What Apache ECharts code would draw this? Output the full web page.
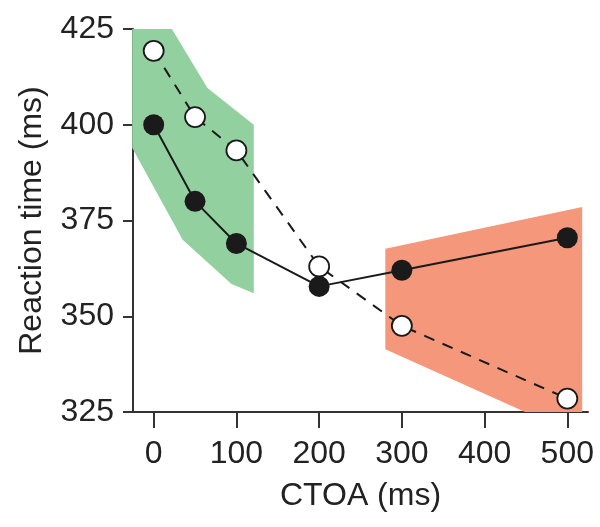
<!DOCTYPE html>
<html>
<head>
<meta charset="utf-8">
<script src="https://cdn.jsdelivr.net/npm/echarts@6/dist/echarts.min.js"></script>
<style>
  html, body { margin: 0; padding: 0; background: #fff; }
  #main { width: 600px; height: 527px; }
</style>
</head>
<body>
<div id="main"></div>
<script>
// CTOA values (ms)
var ctoa = [0, 50, 100, 200, 300, 500];
// filled circles
var filledRT = [400, 380, 369, 357.8, 362, 370.5];
// open circles
var openRT = [419.3, 402, 393.3, 363, 347.5, 328.5];

var xTicks = [0, 100, 200, 300, 400, 500];

// shaded regions, polygon vertices [ctoa, rt]
var greenBand = [[-26, 425], [22, 425], [65, 409.6], [121, 400], [121, 356], [94, 358.4], [35, 370], [-26, 394]];
var redBand = [[280, 367.6], [518, 378.5], [518, 325], [449, 325], [280, 341.4]];

var chart = echarts.init(document.getElementById('main'));

function polygonSeries(points, color) {
  return {
    type: 'custom',
    data: [0],
    silent: true,
    z: 1,
    renderItem: function (params, api) {
      var pts = points.map(function (p) { return api.coord(p); });
      return {
        type: 'polygon',
        shape: { points: pts },
        style: { fill: color }
      };
    }
  };
}

var axisFont = { fontFamily: "'Liberation Sans', Arial, sans-serif", fontSize: 32, color: '#222' };

var option = {
  animation: false,
  grid: { left: 133, right: 12, top: 29, bottom: 115 },
  xAxis: {
    type: 'value',
    min: -25,
    max: 525,
    name: 'CTOA (ms)',
    nameLocation: 'middle',
    nameGap: 68,
    nameTextStyle: axisFont,
    splitLine: { show: false },
    axisLine: { show: true, onZero: false, lineStyle: { color: '#333', width: 2 } },
    axisTick: { show: true, length: 16, customValues: xTicks, lineStyle: { color: '#333', width: 2 } },
    axisLabel: Object.assign({ margin: 26, customValues: xTicks }, axisFont)
  },
  yAxis: {
    type: 'value',
    min: 325,
    max: 425,
    interval: 25,
    name: 'Reaction time (ms)',
    nameLocation: 'middle',
    nameGap: 85,
    nameTextStyle: axisFont,
    splitLine: { show: false },
    axisLine: { show: true, onZero: false, lineStyle: { color: '#333', width: 2 } },
    axisTick: { show: true, length: 10, lineStyle: { color: '#333', width: 2 } },
    axisLabel: Object.assign({ margin: 19 }, axisFont)
  },
  series: [
    polygonSeries(greenBand, '#92d09f'),
    polygonSeries(redBand, '#f5977b'),
    {
      type: 'line',
      z: 3,
      data: ctoa.map(function (c, i) { return [c, openRT[i]]; }),
      symbol: 'circle',
      symbolSize: 20,
      lineStyle: { color: '#1a1a1a', width: 2, type: [11, 9] },
      itemStyle: { color: '#fff', borderColor: '#1a1a1a', borderWidth: 1.8 }
    },
    {
      type: 'line',
      z: 4,
      data: ctoa.map(function (c, i) { return [c, filledRT[i]]; }),
      symbol: 'circle',
      symbolSize: 21,
      lineStyle: { color: '#1a1a1a', width: 2 },
      itemStyle: { color: '#1a1a1a', borderColor: '#1a1a1a', borderWidth: 0 }
    }
  ]
};

chart.setOption(option);
window.addEventListener('resize', function () { chart.resize(); });
</script>
</body>
</html>
